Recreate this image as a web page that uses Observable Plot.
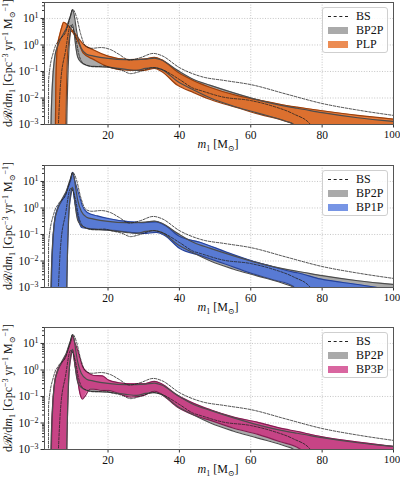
<!DOCTYPE html>
<html><head><meta charset="utf-8">
<script src="https://cdn.jsdelivr.net/npm/d3@7"></script>
<script src="https://cdn.jsdelivr.net/npm/@observablehq/plot@0.6"></script>
<style>
body{margin:0;background:#fff;}
#wrap{position:relative;width:400px;height:480px;font-family:"Liberation Serif","DejaVu Serif",serif;}
.panel{position:absolute;left:0;width:400px;height:162px;}
.legend{position:absolute;left:322px;top:7px;width:64px;height:44px;border:1px solid #cfcfcf;border-radius:3px;background:rgba(255,255,255,0.85);font-size:12px;color:#111;}
.row{position:absolute;left:0;height:14px;width:64px;}
.sw{position:absolute;left:5px;top:4px;width:20px;height:7px;}
.dash{position:absolute;left:5px;top:7px;width:20px;height:0;border-top:1px dashed #222;}
.lab{position:absolute;left:33px;top:0;line-height:14px;}
</style>
</head><body><div id="wrap"></div>
<script>
// ---------------- data ----------------
const xTicks = [20, 40, 60, 80, 100];
const yTicks = [1e-3, 1e-2, 1e-1, 1, 10];
const legendBS = "BS";
const legendRef = "BP2P";

// BS (two dashed bounds)
const bsHiM = [3.3, 3.35, 4.8, 6.2, 8.1, 9.3, 10.1, 11.2, 12.3, 13.7, 15.5, 18, 20.7, 23, 26, 29, 32.7, 35, 40, 46, 53, 60, 70, 80, 90, 100];
const bsHiV = [1e-4, 0.05, 0.6, 1.5, 3, 10, 22, 11, 2.7, 0.9, 0.75, 0.8, 0.67, 0.45, 0.27, 0.33, 0.48, 0.4, 0.14, 0.065, 0.045, 0.032, 0.014, 0.0062, 0.0035, 0.0022];
const bsLoM = [5.8, 6.7, 8.1, 9.5, 10.9, 11.8, 12.8, 14.2, 16, 19, 20.7, 24, 26.3, 29, 32.7, 35, 40, 44, 46, 52, 60, 66, 72, 76.7, 77.5];
const bsLoV = [1e-4, 0.035, 0.6, 5.5, 2, 0.46, 0.22, 0.17, 0.15, 0.16, 0.14, 0.11, 0.083, 0.1, 0.14, 0.12, 0.05, 0.023, 0.019, 0.011, 0.008, 0.005, 0.0025, 0.001, 1e-4];

// BP2P band
const bp2pM  = [3.9, 4.1, 5, 6, 7, 8, 8.3, 8.5, 9, 9.6, 10, 10.5, 11, 11.5, 12.5, 14, 16, 20, 25, 28, 30.5, 33, 35, 39.5, 44, 48.7, 55, 62, 70, 72, 73, 80, 90, 100];
const bp2pHi = [1e-4, 0.003, 0.3, 1, 2, 3.5, 4.2, 5, 8, 14, 21, 14, 5, 2, 0.75, 0.45, 0.38, 0.31, 0.28, 0.28, 0.29, 0.32, 0.27, 0.11, 0.05, 0.03, 0.016, 0.0085, 0.0048, 0.0043, 0.0041, 0.0028, 0.0018, 0.0013];
const bp2pLo = [1e-4, 1e-4, 1e-4, 1e-4, 1e-4, 1e-4, 1e-4, 0.003, 0.5, 4, 6, 3, 0.8, 0.35, 0.22, 0.17, 0.155, 0.145, 0.12, 0.11, 0.13, 0.14, 0.12, 0.042, 0.02, 0.01, 0.005, 0.0027, 0.0013, 0.001, 1e-4, 1e-4, 1e-4, 1e-4];

// PLP band
const plpM  = [5.2, 5.4, 5.8, 6.5, 7.0, 7.6, 8.0, 8.2, 8.6, 9.2, 9.8, 10.5, 12, 13, 16, 20, 26, 30, 33, 35, 39.5, 44, 48.7, 56, 62, 70, 72, 73, 80, 90, 100];
const plpHi = [1e-4, 0.05, 0.8, 2.5, 4.5, 7.2, 6.8, 6.5, 5.8, 4.8, 3.8, 3.0, 1.6, 1.1, 0.65, 0.38, 0.28, 0.29, 0.34, 0.28, 0.095, 0.045, 0.025, 0.0125, 0.0085, 0.0052, 0.0047, 0.0045, 0.0033, 0.0022, 0.0016];
const plpLo = [1e-4, 1e-4, 1e-4, 1e-4, 1e-4, 1e-4, 1e-4, 0.002, 0.3, 2, 3.3, 2.5, 1.0, 0.5, 0.28, 0.15, 0.11, 0.11, 0.13, 0.1, 0.03, 0.016, 0.0088, 0.0044, 0.0025, 0.0013, 0.001, 1e-4, 1e-4, 1e-4, 1e-4];

// BP1P band
const bp1pM  = [4.0, 4.2, 5, 5.8, 7, 8.1, 8.3, 8.5, 9, 9.6, 10.1, 10.6, 11.4, 12.3, 12.8, 14.2, 17, 20, 26.3, 30, 33.5, 36, 40, 46, 53, 60, 66, 72, 73, 79.5, 90, 95.5, 100];
const bp1pHi = [1e-4, 0.003, 0.3, 0.9, 1.8, 3.3, 3.8, 4.5, 7, 12, 22, 12, 5, 2, 1.2, 0.67, 0.5, 0.4, 0.3, 0.28, 0.3, 0.22, 0.085, 0.05, 0.022, 0.0104, 0.0062, 0.0038, 0.0036, 0.0021, 0.0013, 0.001, 0.0008];
const bp1pLo = [1e-4, 1e-4, 1e-4, 1e-4, 1e-4, 1e-4, 1e-4, 0.003, 0.6, 3, 5.9, 2, 0.58, 0.21, 0.18, 0.17, 0.16, 0.15, 0.12, 0.11, 0.12, 0.09, 0.03, 0.016, 0.0075, 0.0035, 0.002, 0.0011, 1e-4, 1e-4, 1e-4, 1e-4, 1e-4];

// BP3P band
const bp3pM  = [4.0, 4.2, 5, 5.8, 7, 8.1, 8.3, 8.5, 9, 9.6, 10.1, 10.6, 11.4, 12.2, 12.8, 13.5, 15, 16, 18.4, 20.1, 23, 26.3, 30, 33, 35, 39.5, 44, 48.7, 55, 62, 68, 74, 75, 80, 90, 100];
const bp3pHi = [1e-4, 0.003, 0.3, 0.9, 1.8, 3.3, 3.8, 4.5, 7, 12, 20, 12, 6, 2.5, 1.4, 1.0, 0.7, 0.62, 0.6, 0.42, 0.33, 0.3, 0.3, 0.37, 0.3, 0.11, 0.055, 0.0315, 0.017, 0.0106, 0.0065, 0.0045, 0.0042, 0.003, 0.0019, 0.0013];
const bp3pLo = [1e-4, 1e-4, 1e-4, 1e-4, 1e-4, 1e-4, 1e-4, 0.003, 0.6, 3, 6, 2, 0.5, 0.12, 0.08, 0.1, 0.19, 0.19, 0.17, 0.17, 0.13, 0.095, 0.11, 0.16, 0.12, 0.039, 0.02, 0.0125, 0.0065, 0.0037, 0.002, 0.001, 1e-4, 1e-4, 1e-4, 1e-4];

// ---------------- styles ----------------
const GRAY_FILL = "#aaaaaa", GRAY_EDGE = "#4d4d4d";
const panels = [
  {name: "PLP",  m: plpM,  lo: plpLo,  hi: plpHi,  fill: "#e5661a", edge: "#9a3f0c", top: 0,   mt: 2},
  {name: "BP1P", m: bp1pM, lo: bp1pLo, hi: bp1pHi, fill: "#4a72dc", edge: "#27439a", top: 162, mt: 3},
  {name: "BP3P", m: bp3pM, lo: bp3pLo, hi: bp3pHi, fill: "#cc3380", edge: "#861c52", top: 324, mt: 3}
];

const rows = (M, lo, hi) => M.map((m, i) => ({m, lo: lo ? lo[i] : undefined, hi: hi[i]}));
const bsHiRows = rows(bsHiM, null, bsHiV);
const bsLoRows = rows(bsLoM, null, bsLoV);
const bp2pRows = rows(bp2pM, bp2pLo, bp2pHi);

const minor = [];
for (const d of [1e-3, 1e-2, 1e-1, 1, 10]) for (let k = 2; k <= 9; k++) if (d * k <= 40) minor.push(d * k);

const FONT = "Liberation Serif, DejaVu Serif, serif";
const wrap = document.getElementById("wrap");

function addRich(parent, parts, subShift) {
  let shift = 0;
  for (const [t, kind] of parts) {
    const ts = parent.append("tspan").text(t);
    let target = 0;
    if (kind === "sub") target = subShift; else if (kind === "sup") target = -4.5;
    ts.attr("dy", target - shift);
    shift = target;
    if (kind === "sub" || kind === "sup") ts.attr("font-size", "8px");
    if (kind === "i") ts.attr("font-style", "italic");
  }
}

for (const p of panels) {
  const bandRows = rows(p.m, p.lo, p.hi);
  const H = 162;
  const cur = "monotone-x";
  const svg = Plot.plot({
    width: 400, height: H,
    marginLeft: 44, marginRight: 7, marginTop: p.mt, marginBottom: H - p.mt - 122,
    style: {fontFamily: FONT, fontSize: "11.5px", background: "transparent", color: "#111", overflow: "visible"},
    x: {domain: [2.2, 100], label: null},
    y: {type: "log", domain: [1e-3, 40], label: null},
    marks: [
      Plot.gridX(xTicks, {stroke: "#b8b8b8", strokeOpacity: 1, strokeDasharray: "1,1.6", strokeWidth: 0.8}),
      Plot.gridY(yTicks, {stroke: "#b8b8b8", strokeOpacity: 1, strokeDasharray: "1,1.6", strokeWidth: 0.8}),
      Plot.areaY(bp2pRows, {x: "m", y1: "lo", y2: "hi", fill: GRAY_FILL, curve: cur, clip: true}),
      Plot.areaY(bandRows, {x: "m", y1: "lo", y2: "hi", fill: p.fill, fillOpacity: 0.85, curve: cur, clip: true}),
      Plot.lineY(bandRows, {x: "m", y: "lo", stroke: p.edge, strokeWidth: 1.2, curve: cur, clip: true}),
      Plot.lineY(bandRows, {x: "m", y: "hi", stroke: p.edge, strokeWidth: 1.2, curve: cur, clip: true}),
      Plot.lineY(bp2pRows, {x: "m", y: "lo", stroke: GRAY_EDGE, strokeWidth: 1.2, curve: cur, clip: true}),
      Plot.lineY(bp2pRows, {x: "m", y: "hi", stroke: GRAY_EDGE, strokeWidth: 1.2, curve: cur, clip: true}),
      Plot.lineY(bsHiRows, {x: "m", y: "hi", stroke: "#222", strokeWidth: 0.8, strokeDasharray: "2.5,1.5", curve: cur, clip: true}),
      Plot.lineY(bsLoRows, {x: "m", y: "hi", stroke: "#222", strokeWidth: 0.8, strokeDasharray: "2.5,1.5", curve: cur, clip: true}),
      Plot.axisX(xTicks, {tickSize: 3.5, tickPadding: 2.5, stroke: "#333", label: null}),
      Plot.axisY(minor, {tickSize: 2, tickFormat: () => "", stroke: "#333", label: null}),
      Plot.axisY(yTicks, {tickSize: 3.5, tickPadding: 2.5, stroke: "#333", label: null,
        tickFormat: d => "10^" + Math.round(Math.log10(d))}),
      Plot.frame({stroke: "#555"})
    ]
  });
  const div = document.createElement("div");
  div.className = "panel";
  div.style.top = p.top + "px";
  div.appendChild(svg);
  wrap.appendChild(div);

  const s = d3.select(svg);
  s.selectAll("text").each(function () {
    const t = this.textContent;
    const mm = t.match(/^10\^(-?\d+)$/);
    if (mm) {
      const sel = d3.select(this);
      sel.text(null);
      sel.append("tspan").text("10");
      sel.append("tspan").attr("dy", "-0.5em").attr("font-size", "8px").text(mm[1].replace("-", "\u2212"));
    } else if (t === "100") {
      d3.select(this).attr("dx", "-1.5").attr("font-size", "11px");
    }
  });
  // y label
  const cy = p.mt + 61;
  const yl = s.append("text").attr("transform", `translate(12,${cy}) rotate(-90)`)
    .attr("text-anchor", "middle").attr("font-family", FONT).attr("font-size", "12px").attr("fill", "#111");
  addRich(yl, [["d\u211B/d", "n"], ["m", "i"], ["1", "sub"], [" [Gpc", "n"], ["\u22123", "sup"], [" yr", "n"], ["\u22121", "sup"], [" M", "n"], ["\u2299", "sub"], ["\u22121", "sup"], ["]", "n"]], 3);
  // x label
  const xl = s.append("text").attr("x", 218).attr("y", p.mt + 122 + 24)
    .attr("text-anchor", "middle").attr("font-family", FONT).attr("font-size", "12px").attr("fill", "#111");
  addRich(xl, [["m", "i"], ["1", "sub"], [" [M", "n"], ["\u2299", "sub"], ["]", "n"]], 2.5);

  // legend
  const lg = document.createElement("div");
  lg.className = "legend";
  lg.style.top = (p.mt + 5) + "px";
  const entries = [[legendBS, null], [legendRef, GRAY_FILL], [p.name, p.fill]];
  entries.forEach(([name, col], i) => {
    const r = document.createElement("div");
    r.className = "row";
    r.style.top = (1 + i * 14) + "px";
    const sw = document.createElement("div");
    if (col) { sw.className = "sw"; sw.style.background = col; sw.style.opacity = col === GRAY_FILL ? 1 : 0.75; }
    else sw.className = "dash";
    const lb = document.createElement("div");
    lb.className = "lab"; lb.textContent = name;
    r.appendChild(sw); r.appendChild(lb);
    lg.appendChild(r);
  });
  div.appendChild(lg);
}
</script>
</body></html>
